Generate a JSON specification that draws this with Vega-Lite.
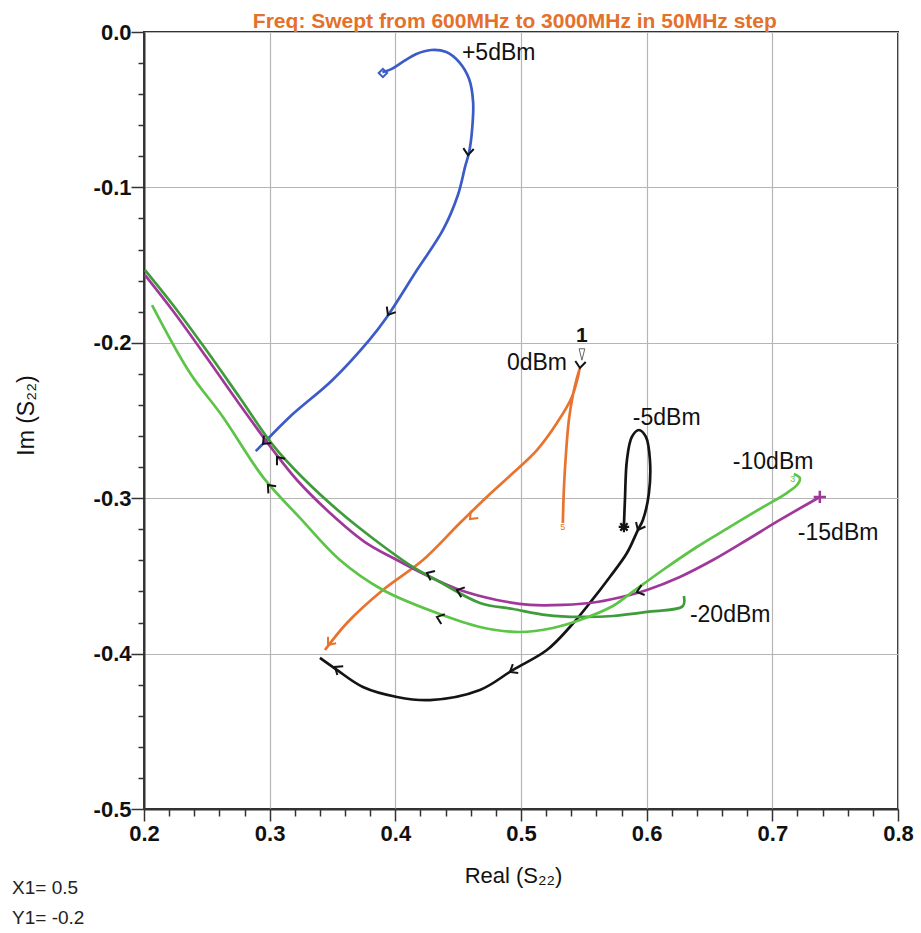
{
  "$schema": "https://vega.github.io/schema/vega-lite/v6.json",
  "width": 754,
  "height": 777,
  "autosize": {"type": "none"},
  "padding": {"left": 144, "top": 32, "right": 23, "bottom": 124},
  "background": "white",
  "config": {
    "view": {"stroke": "#333", "strokeWidth": 2},
    "axis": {"domainColor": "#333", "domainWidth": 2, "tickColor": "#333", "tickWidth": 1.5, "labelFlush": false, "labelOverlap": false}
  },
  "datasets": {
    "curves": [
      {"s": "+5dBm", "i": 1, "re": 0.3897, "im": -0.0258},
      {"s": "+5dBm", "i": 2, "re": 0.3968, "im": -0.0239},
      {"s": "+5dBm", "i": 3, "re": 0.4056, "im": -0.0194},
      {"s": "+5dBm", "i": 4, "re": 0.4167, "im": -0.0142},
      {"s": "+5dBm", "i": 5, "re": 0.4286, "im": -0.0116},
      {"s": "+5dBm", "i": 6, "re": 0.4405, "im": -0.0129},
      {"s": "+5dBm", "i": 7, "re": 0.4508, "im": -0.0194},
      {"s": "+5dBm", "i": 8, "re": 0.4587, "im": -0.0303},
      {"s": "+5dBm", "i": 9, "re": 0.4619, "im": -0.0452},
      {"s": "+5dBm", "i": 10, "re": 0.4611, "im": -0.0626},
      {"s": "+5dBm", "i": 11, "re": 0.4587, "im": -0.0774},
      {"s": "+5dBm", "i": 12, "re": 0.4556, "im": -0.0865},
      {"s": "+5dBm", "i": 13, "re": 0.4498, "im": -0.1049},
      {"s": "+5dBm", "i": 14, "re": 0.4379, "im": -0.1274},
      {"s": "+5dBm", "i": 15, "re": 0.4172, "im": -0.1532},
      {"s": "+5dBm", "i": 16, "re": 0.3929, "im": -0.1839},
      {"s": "+5dBm", "i": 17, "re": 0.3794, "im": -0.1981},
      {"s": "+5dBm", "i": 18, "re": 0.35, "im": -0.2239},
      {"s": "+5dBm", "i": 19, "re": 0.3159, "im": -0.2477},
      {"s": "+5dBm", "i": 20, "re": 0.2921, "im": -0.2671},
      {"s": "+5dBm", "i": 21, "re": 0.2889, "im": -0.2697},

      {"s": "0dBm", "i": 1, "re": 0.5333, "im": -0.316},
      {"s": "0dBm", "i": 2, "re": 0.5341, "im": -0.2947},
      {"s": "0dBm", "i": 3, "re": 0.5357, "im": -0.2722},
      {"s": "0dBm", "i": 4, "re": 0.5381, "im": -0.2497},
      {"s": "0dBm", "i": 5, "re": 0.5413, "im": -0.2336},
      {"s": "0dBm", "i": 6, "re": 0.5445, "im": -0.2227},
      {"s": "0dBm", "i": 7, "re": 0.5469, "im": -0.2162},
      {"s": "0dBm", "i": 8, "re": 0.5405, "im": -0.2349},
      {"s": "0dBm", "i": 9, "re": 0.5286, "im": -0.2516},
      {"s": "0dBm", "i": 10, "re": 0.5127, "im": -0.269},
      {"s": "0dBm", "i": 11, "re": 0.4936, "im": -0.2838},
      {"s": "0dBm", "i": 12, "re": 0.4753, "im": -0.2973},
      {"s": "0dBm", "i": 13, "re": 0.4514, "im": -0.316},
      {"s": "0dBm", "i": 14, "re": 0.422, "im": -0.3398},
      {"s": "0dBm", "i": 15, "re": 0.3901, "im": -0.3591},
      {"s": "0dBm", "i": 16, "re": 0.3615, "im": -0.3803},
      {"s": "0dBm", "i": 17, "re": 0.344, "im": -0.3977},

      {"s": "-5dBm", "i": 1, "re": 0.5819, "im": -0.3179},
      {"s": "-5dBm", "i": 2, "re": 0.5827, "im": -0.3012},
      {"s": "-5dBm", "i": 3, "re": 0.5843, "im": -0.2754},
      {"s": "-5dBm", "i": 4, "re": 0.5882, "im": -0.2606},
      {"s": "-5dBm", "i": 5, "re": 0.5938, "im": -0.2561},
      {"s": "-5dBm", "i": 6, "re": 0.5994, "im": -0.2606},
      {"s": "-5dBm", "i": 7, "re": 0.6026, "im": -0.2754},
      {"s": "-5dBm", "i": 8, "re": 0.6018, "im": -0.2967},
      {"s": "-5dBm", "i": 9, "re": 0.597, "im": -0.314},
      {"s": "-5dBm", "i": 10, "re": 0.593, "im": -0.3205},
      {"s": "-5dBm", "i": 11, "re": 0.5843, "im": -0.3353},
      {"s": "-5dBm", "i": 12, "re": 0.5707, "im": -0.3507},
      {"s": "-5dBm", "i": 13, "re": 0.5548, "im": -0.3674},
      {"s": "-5dBm", "i": 14, "re": 0.5389, "im": -0.3829},
      {"s": "-5dBm", "i": 15, "re": 0.5206, "im": -0.3977},
      {"s": "-5dBm", "i": 16, "re": 0.4936, "im": -0.4105},
      {"s": "-5dBm", "i": 17, "re": 0.4673, "im": -0.4234},
      {"s": "-5dBm", "i": 18, "re": 0.4275, "im": -0.4299},
      {"s": "-5dBm", "i": 19, "re": 0.4013, "im": -0.4279},
      {"s": "-5dBm", "i": 20, "re": 0.3742, "im": -0.4215},
      {"s": "-5dBm", "i": 21, "re": 0.3535, "im": -0.4105},
      {"s": "-5dBm", "i": 22, "re": 0.34, "im": -0.4028},

      {"s": "-15dBm", "i": 1, "re": 0.2008, "im": -0.1564},
      {"s": "-15dBm", "i": 2, "re": 0.2231, "im": -0.1795},
      {"s": "-15dBm", "i": 3, "re": 0.2501, "im": -0.2098},
      {"s": "-15dBm", "i": 4, "re": 0.2764, "im": -0.24},
      {"s": "-15dBm", "i": 5, "re": 0.3026, "im": -0.269},
      {"s": "-15dBm", "i": 6, "re": 0.3217, "im": -0.2883},
      {"s": "-15dBm", "i": 7, "re": 0.348, "im": -0.3095},
      {"s": "-15dBm", "i": 8, "re": 0.3758, "im": -0.3282},
      {"s": "-15dBm", "i": 9, "re": 0.4013, "im": -0.3398},
      {"s": "-15dBm", "i": 10, "re": 0.4275, "im": -0.3507},
      {"s": "-15dBm", "i": 11, "re": 0.4514, "im": -0.3591},
      {"s": "-15dBm", "i": 12, "re": 0.4808, "im": -0.3655},
      {"s": "-15dBm", "i": 13, "re": 0.5071, "im": -0.3687},
      {"s": "-15dBm", "i": 14, "re": 0.5333, "im": -0.3687},
      {"s": "-15dBm", "i": 15, "re": 0.5604, "im": -0.3668},
      {"s": "-15dBm", "i": 16, "re": 0.5866, "im": -0.3623},
      {"s": "-15dBm", "i": 17, "re": 0.6002, "im": -0.3591},
      {"s": "-15dBm", "i": 18, "re": 0.6264, "im": -0.3507},
      {"s": "-15dBm", "i": 19, "re": 0.6527, "im": -0.3398},
      {"s": "-15dBm", "i": 20, "re": 0.6797, "im": -0.3269},
      {"s": "-15dBm", "i": 21, "re": 0.706, "im": -0.314},
      {"s": "-15dBm", "i": 22, "re": 0.7378, "im": -0.2992},

      {"s": "-20dBm", "i": 1, "re": 0.2008, "im": -0.1532},
      {"s": "-20dBm", "i": 2, "re": 0.2231, "im": -0.1757},
      {"s": "-20dBm", "i": 3, "re": 0.2501, "im": -0.2053},
      {"s": "-20dBm", "i": 4, "re": 0.2764, "im": -0.2355},
      {"s": "-20dBm", "i": 5, "re": 0.3026, "im": -0.2658},
      {"s": "-20dBm", "i": 6, "re": 0.3265, "im": -0.287},
      {"s": "-20dBm", "i": 7, "re": 0.3559, "im": -0.3089},
      {"s": "-20dBm", "i": 8, "re": 0.3838, "im": -0.3269},
      {"s": "-20dBm", "i": 9, "re": 0.4116, "im": -0.343},
      {"s": "-20dBm", "i": 10, "re": 0.4355, "im": -0.3539},
      {"s": "-20dBm", "i": 11, "re": 0.4673, "im": -0.3674},
      {"s": "-20dBm", "i": 12, "re": 0.4936, "im": -0.3713},
      {"s": "-20dBm", "i": 13, "re": 0.5206, "im": -0.3752},
      {"s": "-20dBm", "i": 14, "re": 0.5469, "im": -0.3764},
      {"s": "-20dBm", "i": 15, "re": 0.5731, "im": -0.3758},
      {"s": "-20dBm", "i": 16, "re": 0.6002, "im": -0.3732},
      {"s": "-20dBm", "i": 17, "re": 0.6288, "im": -0.3694},
      {"s": "-20dBm", "i": 18, "re": 0.6296, "im": -0.3629},

      {"s": "-10dBm", "i": 1, "re": 0.2064, "im": -0.1757},
      {"s": "-10dBm", "i": 2, "re": 0.2366, "im": -0.2194},
      {"s": "-10dBm", "i": 3, "re": 0.2628, "im": -0.2477},
      {"s": "-10dBm", "i": 4, "re": 0.2947, "im": -0.2864},
      {"s": "-10dBm", "i": 5, "re": 0.3241, "im": -0.3127},
      {"s": "-10dBm", "i": 6, "re": 0.3559, "im": -0.3398},
      {"s": "-10dBm", "i": 7, "re": 0.3901, "im": -0.3591},
      {"s": "-10dBm", "i": 8, "re": 0.4331, "im": -0.3739},
      {"s": "-10dBm", "i": 9, "re": 0.4673, "im": -0.3829},
      {"s": "-10dBm", "i": 10, "re": 0.4991, "im": -0.3861},
      {"s": "-10dBm", "i": 11, "re": 0.5254, "im": -0.3835},
      {"s": "-10dBm", "i": 12, "re": 0.5469, "im": -0.3784},
      {"s": "-10dBm", "i": 13, "re": 0.5731, "im": -0.3694},
      {"s": "-10dBm", "i": 14, "re": 0.5866, "im": -0.3616},
      {"s": "-10dBm", "i": 15, "re": 0.6129, "im": -0.3462},
      {"s": "-10dBm", "i": 16, "re": 0.6399, "im": -0.3314},
      {"s": "-10dBm", "i": 17, "re": 0.6662, "im": -0.3185},
      {"s": "-10dBm", "i": 18, "re": 0.6925, "im": -0.3057},
      {"s": "-10dBm", "i": 19, "re": 0.7115, "im": -0.2967},
      {"s": "-10dBm", "i": 20, "re": 0.7203, "im": -0.2909},
      {"s": "-10dBm", "i": 21, "re": 0.7219, "im": -0.287},
      {"s": "-10dBm", "i": 22, "re": 0.7171, "im": -0.2844}
    ],
    "arrows": [
      {"s": "+5dBm", "re": 0.4578, "im": -0.0792, "ang": 95},
      {"s": "+5dBm", "re": 0.3941, "im": -0.1821, "ang": 121},
      {"s": "+5dBm", "re": 0.2947, "im": -0.2651, "ang": 135},
      {"s": "marker", "re": 0.5469, "im": -0.2162, "ang": 95},
      {"s": "0dBm", "re": 0.4594, "im": -0.3134, "ang": 135},
      {"s": "0dBm", "re": 0.3464, "im": -0.3945, "ang": 129},
      {"s": "-5dBm", "re": 0.593, "im": -0.3205, "ang": 116},
      {"s": "-5dBm", "re": 0.4912, "im": -0.4118, "ang": 149},
      {"s": "-5dBm", "re": 0.3519, "im": -0.4086, "ang": 214},
      {"s": "-15dBm", "re": 0.3058, "im": -0.2735, "ang": 231},
      {"s": "-15dBm", "re": 0.4251, "im": -0.3481, "ang": 205},
      {"s": "-15dBm", "re": 0.449, "im": -0.3591, "ang": 200},
      {"s": "-15dBm", "re": 0.5922, "im": -0.3604, "ang": 162},
      {"s": "-10dBm", "re": 0.4331, "im": -0.3764, "ang": 200},
      {"s": "-10dBm", "re": 0.2986, "im": -0.2915, "ang": 228}
    ],
    "labels": [
      {"t": "+5dBm", "re": 0.453, "im": -0.0135},
      {"t": "0dBm", "re": 0.4888, "im": -0.213},
      {"t": "-5dBm", "re": 0.589, "im": -0.2484},
      {"t": "-10dBm", "re": 0.6686, "im": -0.2767},
      {"t": "-15dBm", "re": 0.7203, "im": -0.3224},
      {"t": "-20dBm", "re": 0.6344, "im": -0.3752}
    ],
    "notes": [
      {"t": "X1= 0.5", "re": 0.095, "im": -0.5508},
      {"t": "Y1= -0.2", "re": 0.095, "im": -0.5701}
    ],
    "heading": [
      {"t": "Freq: Swept from 600MHz to 3000MHz in 50MHz step", "re": 0.4951, "im": 0.0026}
    ],
    "tags": [
      {"t": "5", "s": "0dBm", "re": 0.5333, "im": -0.3185},
      {"t": "3", "s": "-10dBm", "re": 0.7163, "im": -0.2875}
    ]
  },
  "resolve": {"axis": {"x": "independent", "y": "independent"}},
  "layer": [
    {
      "data": {"name": "curves"},
      "mark": {"type": "line", "strokeWidth": 2.7, "interpolate": "catmull-rom"},
      "encoding": {
        "x": {
          "field": "re", "type": "quantitative",
          "scale": {"domain": [0.2, 0.8], "nice": false, "zero": false},
          "axis": {
            "orient": "bottom",
            "values": [0.2, 0.3, 0.4, 0.5, 0.6, 0.7, 0.8],
            "labelExpr": "format(datum.value, '.1f')",
            "grid": true, "gridColor": "#b5b5b5", "gridWidth": 1.2,
            "tickSize": 12, "labelPadding": 2,
            "labelFont": "Liberation Sans",
            "labelFontSize": 22, "labelFontWeight": "bold", "labelColor": "#111",
            "title": "Real (S₂₂)",
            "titleFont": "Liberation Sans", "titleFontSize": 22, "titleFontWeight": "normal", "titleColor": "#111",
            "titleX": 369, "titleY": 56, "titleBaseline": "top"
          }
        },
        "y": {
          "field": "im", "type": "quantitative",
          "scale": {"domain": [-0.5, 0], "nice": false, "zero": false},
          "axis": {
            "orient": "left",
            "values": [0, -0.1, -0.2, -0.3, -0.4, -0.5],
            "labelExpr": "datum.value == 0 ? '0.0' : '-' + format(-datum.value, '.1f')",
            "grid": true, "gridColor": "#b5b5b5", "gridWidth": 1.2,
            "tickSize": 13, "labelPadding": 0,
            "labelFont": "Liberation Sans",
            "labelFontSize": 22, "labelFontWeight": "bold", "labelColor": "#111",
            "title": "Im (S₂₂)",
            "titleFont": "Liberation Sans", "titleFontSize": 23, "titleFontWeight": "normal", "titleColor": "#111",
            "titleX": -106, "titleY": 383
          }
        },
        "color": {
          "field": "s", "type": "nominal",
          "scale": {
            "domain": ["+5dBm", "0dBm", "-5dBm", "-10dBm", "-15dBm", "-20dBm", "marker"],
            "range": ["#3b5bc6", "#e8732e", "#141414", "#5cc447", "#a0389a", "#3f9c3a", "#141414"]
          },
          "legend": null
        },
        "order": {"field": "i", "type": "quantitative"}
      }
    },
    {
      "data": {"name": "arrows"},
      "mark": {"type": "point", "shape": "M-1,-0.8L0,0L-1,0.8", "filled": false, "strokeWidth": 2, "size": 170, "opacity": 1},
      "encoding": {
        "x": {
          "field": "re", "type": "quantitative",
          "axis": {"orient": "bottom", "values": [0.22, 0.24, 0.26, 0.28, 0.32, 0.34, 0.36, 0.38, 0.42, 0.44, 0.46, 0.48, 0.52, 0.54, 0.56, 0.58, 0.62, 0.64, 0.66, 0.68, 0.72, 0.74, 0.76, 0.78], "labels": false, "grid": false, "domain": false, "tickSize": 7, "title": null}
        },
        "y": {
          "field": "im", "type": "quantitative",
          "axis": {"orient": "left", "values": [-0.02, -0.04, -0.06, -0.08, -0.12, -0.14, -0.16, -0.18, -0.22, -0.24, -0.26, -0.28, -0.32, -0.34, -0.36, -0.38, -0.42, -0.44, -0.46, -0.48], "labels": false, "grid": false, "domain": false, "tickSize": 6, "title": null}
        },
        "color": {
          "condition": {"test": "datum.s === '0dBm'", "value": "#e8732e"},
          "value": "#141414"
        },
        "angle": {"field": "ang", "type": "quantitative", "scale": null}
      }
    },
    {
      "data": {"values": [{"re": 0.3901, "im": -0.0264}]},
      "mark": {"type": "point", "shape": "diamond", "filled": false, "stroke": "#3b5bc6", "strokeWidth": 2, "size": 70, "opacity": 1},
      "encoding": {
        "x": {"field": "re", "type": "quantitative", "axis": null},
        "y": {"field": "im", "type": "quantitative", "axis": null}
      }
    },
    {
      "data": {"values": [{"re": 0.5819, "im": -0.3185}]},
      "mark": {"type": "point", "shape": "M-1,0L1,0M0,-1L0,1M-0.7,-0.7L0.7,0.7M-0.7,0.7L0.7,-0.7", "filled": false, "stroke": "#141414", "strokeWidth": 2.2, "size": 110, "opacity": 1},
      "encoding": {
        "x": {"field": "re", "type": "quantitative", "axis": null},
        "y": {"field": "im", "type": "quantitative", "axis": null}
      }
    },
    {
      "data": {"values": [{"re": 0.7378, "im": -0.2992}]},
      "mark": {"type": "point", "shape": "M-1,0L1,0M0,-1L0,1", "filled": false, "stroke": "#a0389a", "strokeWidth": 2.5, "size": 150, "opacity": 1},
      "encoding": {
        "x": {"field": "re", "type": "quantitative", "axis": null},
        "y": {"field": "im", "type": "quantitative", "axis": null}
      }
    },
    {
      "data": {"values": [{"re": 0.5485, "im": -0.2075}]},
      "mark": {"type": "point", "shape": "M-0.5,-1L0.5,-1L0,1Z", "filled": true, "fill": "white", "stroke": "#666", "strokeWidth": 1, "size": 130, "opacity": 1},
      "encoding": {
        "x": {"field": "re", "type": "quantitative", "axis": null},
        "y": {"field": "im", "type": "quantitative", "axis": null}
      }
    },
    {
      "data": {"values": [{"t": "1", "re": 0.5485, "im": -0.1956}]},
      "mark": {"type": "text", "font": "Liberation Sans", "fontSize": 21, "fontWeight": "bold", "color": "#111", "baseline": "middle", "align": "center"},
      "encoding": {
        "x": {"field": "re", "type": "quantitative", "axis": null},
        "y": {"field": "im", "type": "quantitative", "axis": null},
        "text": {"field": "t"}
      }
    },
    {
      "data": {"name": "labels"},
      "mark": {"type": "text", "font": "Liberation Sans", "fontSize": 23, "color": "#111", "baseline": "middle", "align": "left"},
      "encoding": {
        "x": {"field": "re", "type": "quantitative", "axis": null},
        "y": {"field": "im", "type": "quantitative", "axis": null},
        "text": {"field": "t"}
      }
    },
    {
      "data": {"name": "tags"},
      "mark": {"type": "text", "font": "Liberation Sans", "fontSize": 9, "baseline": "middle", "align": "center"},
      "encoding": {
        "x": {"field": "re", "type": "quantitative", "axis": null},
        "y": {"field": "im", "type": "quantitative", "axis": null},
        "text": {"field": "t"},
        "color": {"field": "s", "type": "nominal", "legend": null}
      }
    },
    {
      "data": {"name": "notes"},
      "mark": {"type": "text", "font": "Liberation Sans", "fontSize": 19, "color": "#222", "baseline": "middle", "align": "left"},
      "encoding": {
        "x": {"field": "re", "type": "quantitative", "axis": null},
        "y": {"field": "im", "type": "quantitative", "axis": null},
        "text": {"field": "t"}
      }
    },
    {
      "data": {"name": "heading"},
      "mark": {"type": "text", "font": "Liberation Sans", "fontSize": 21, "fontWeight": "bold", "color": "#e3712c", "baseline": "alphabetic", "align": "center"},
      "encoding": {
        "x": {"field": "re", "type": "quantitative", "axis": null},
        "y": {"field": "im", "type": "quantitative", "axis": null},
        "text": {"field": "t"}
      }
    }
  ]
}
